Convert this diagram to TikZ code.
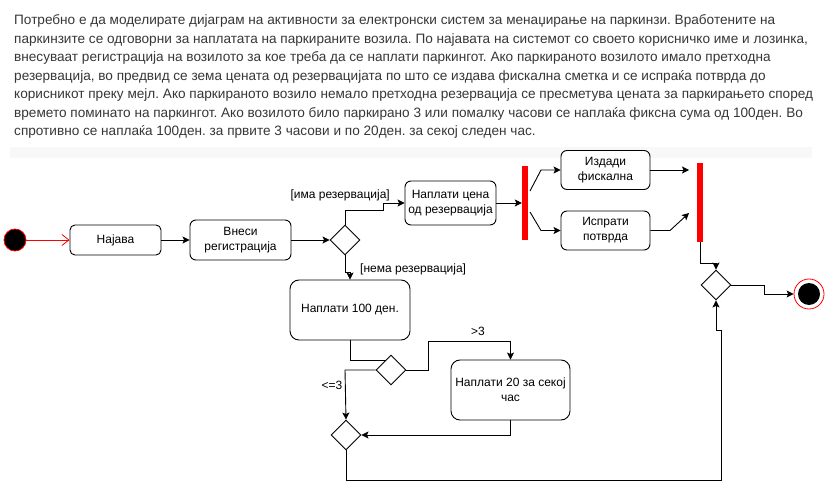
\documentclass[tikz,border=0pt]{standalone}
\usepackage{fontspec}
\setmainfont{Liberation Sans}
\usetikzlibrary{shapes.geometric,arrows.meta}
\definecolor{para}{RGB}{55,55,55}
\definecolor{ghost}{RGB}{248,248,248}
\tikzset{
  box/.style={draw=black,line width=0.9pt,fill=white,align=center,inner sep=1pt,font=\fontsize{12}{15}\selectfont},
  dec/.style={draw=black,line width=0.9pt,fill=white,diamond,minimum width=30,minimum height=30,inner sep=0pt},
  bar/.style={fill=red,draw=none,inner sep=0pt,minimum width=6},
  arr/.style={draw=black,line width=0.9pt,-{Stealth[length=7pt,width=7pt,inset=1.5pt]}},
  ln/.style={draw=black,line width=0.9pt},
  lbl/.style={font=\fontsize{12}{14}\selectfont,inner sep=0pt},
  ptext/.style={anchor=base west,inner sep=0pt,text=para,font=\fontsize{13.6}{16}\selectfont}
}
\frenchspacing
\begin{document}
\begin{tikzpicture}[x=1pt,y=-1pt]
\useasboundingbox (0,0) rectangle (825,489);
\fill[white] (0,0) rectangle (825,489);
% paragraph
\node[ptext] (p1) at (14,25) {Потребно е да моделирате дијаграм на активности за електронски систем за менаџирање на паркинзи. Вработените на};
\node[ptext] (p2) at (14,43.5) {паркинзите се одговорни за наплатата на паркираните возила. По најавата на системот со своето корисничко име и лозинка,};
\node[ptext] (p3) at (14,62) {внесуваат регистрација на возилото за кое треба да се наплати паркингот. Ако паркираното возилото имало претходна};
\node[ptext] (p4) at (14,80.5) {резервација, во предвид се зема цената од резервацијата по што се издава фискална сметка и се испраќа потврда до};
\node[ptext] (p5) at (14,99) {корисникот преку мејл. Ако паркираното возило немало претходна резервација се пресметува цената за паркирањето според};
\node[ptext] (p6) at (14,117.5) {времето поминато на паркингот. Ако возилото било паркирано 3 или помалку часови се наплаќа фиксна сума од 100ден. Во};
\node[ptext] (p7) at (14,136) {спротивно се наплаќа 100ден. за првите 3 часови и по 20ден. за секој следен час.};
\fill[ghost] (10,147) rectangle (812,158);
% nodes
\node[circle,fill=black,draw=red,line width=0.8pt,minimum size=22,inner sep=0] (start) at (15,240) {};
\node[box,rounded corners=5,minimum width=91,minimum height=30] (najava) at (115.5,240) {Најава};
\node[box,rounded corners=6,minimum width=101,minimum height=40] (vnesi) at (240.5,240) {Внеси\\регистрација};
\node[dec] (d1) at (345,240) {};
\node[box,rounded corners=6,minimum width=91,minimum height=44] (cena) at (450.5,203) {Наплати цена\\од резервација};
\node[bar,minimum height=74] (bar1) at (525,203) {};
\node[box,rounded corners=6,minimum width=89,minimum height=39] (izdadi) at (605.5,170) {Издади\\фискална};
\node[box,rounded corners=6,minimum width=89,minimum height=39] (isprati) at (605.5,230.5) {Испрати\\потврда};
\node[bar,minimum height=79] (bar2) at (700,202.5) {};
\node[dec] (d3) at (716,285) {};
\node[circle,draw=red,line width=0.8pt,fill=white,minimum size=30,inner sep=0] (end) at (809,294) {};
\node[circle,fill=black,minimum size=22,inner sep=0] (endin) at (809,294) {};
\node[box,rounded corners=9,minimum width=120,minimum height=60] (n100) at (350,310) {Наплати 100 ден.};
\node[dec] (d2) at (391,370) {};
\node[box,rounded corners=9,minimum width=119,minimum height=60] (n20) at (510.5,390) {Наплати 20 за секој\\час};
\node[dec] (d4) at (346,435) {};
\coordinate (j1) at (689,170);
\coordinate (j2) at (689,213);
\coordinate (d2in) at (386,360);
% labels
\node[lbl,anchor=east] (lima) at (390,195) {[има резервација]};
\node[lbl,anchor=west] (lnema) at (360,269) {[нема резервација]};
\node[lbl] (lgt) at (478,331) {>3};
\node[lbl] (lle) at (332,385) {<=3};
% connectors
\draw[red,line width=0.8pt,-{Straight Barb[length=7pt,width=11pt]}] (start) -- (najava);
\draw[arr] (najava) -- (vnesi);
\draw[arr] (vnesi) -- (d1);
\draw[arr] (d1.north) -- (345,210) -- (383,210) -- (383,203) -- (cena.west);
\draw[arr] (d1.south) -- (345,272) -- (350,272) -- (n100.north);
\draw[arr] (cena.east) -- (bar1.west);
\draw[arr] (530,191) -- (541,170) -- (izdadi.west);
\draw[arr] (530,212) -- (541,230.5) -- (isprati.west);
\draw[arr] (izdadi.east) -- (j1);
\draw[arr] (isprati.east) -- (670,230.5) -- (j2);
\draw[arr] (bar2.south) -- (700,263) -- (716,263) -- (d3.north);
\draw[arr] (d3.east) -- (764,285) -- (764,294) -- (end.west);
\draw[ln] (n100.south) -- (350,360) -- (d2in);
\draw[arr] (d2.east) -- (428,370) -- (428,341) -- (510.5,341) -- (n20.north);
\draw[arr] (d2.west) -- (345,370) -- (d4.north);
\draw[arr] (n20.south) -- (510.5,435) -- (d4.east);
\draw[arr] (d4.south) -- (346,480) -- (721,480) -- (721,330) -- (716,330) -- (d3.south);
\end{tikzpicture}
\end{document}
